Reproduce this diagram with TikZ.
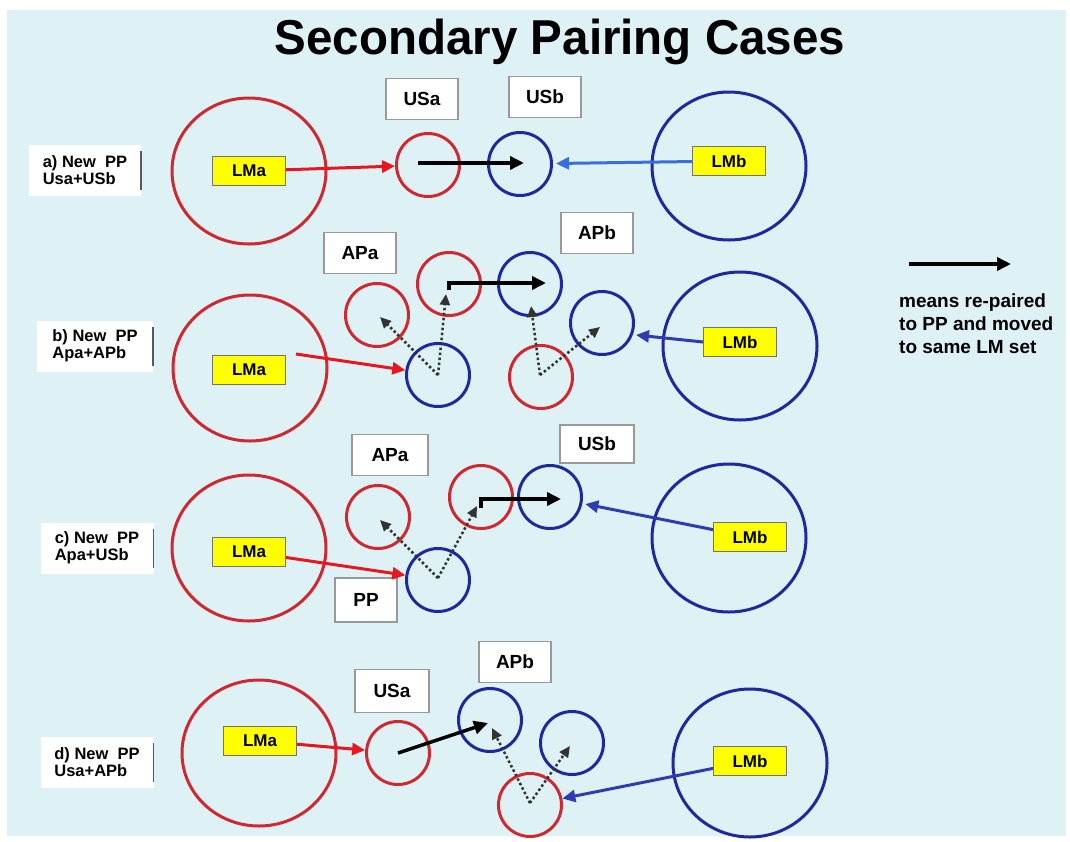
\documentclass[tikz,border=0pt]{standalone}
\usepackage{fontspec}
\setmainfont{Liberation Sans}
\usetikzlibrary{arrows.meta,shapes.geometric,calc}
\definecolor{bgc}{RGB}{222,241,245}
\definecolor{cred}{RGB}{208,40,48}
\definecolor{ared}{RGB}{232,22,30}
\definecolor{cblue}{RGB}{30,40,160}
\definecolor{ablue}{RGB}{45,60,178}
\definecolor{lblue}{RGB}{55,112,222}
\definecolor{lmyel}{RGB}{255,255,0}
\begin{document}
\begin{tikzpicture}[x=1pt,y=-1pt,
  bigred/.style={ellipse,draw=cred,line width=3pt,minimum width=154pt,minimum height=146pt,inner sep=0pt},
  bigblue/.style={ellipse,draw=cblue,line width=3pt,minimum width=154pt,minimum height=148pt,inner sep=0pt},
  smred/.style={circle,draw=cred,line width=3pt,minimum size=63pt,inner sep=0pt},
  smblue/.style={circle,draw=cblue,line width=3pt,minimum size=63pt,inner sep=0pt},
  lmbox/.style={draw=black!55,line width=0.8pt,fill=lmyel,minimum width=73pt,minimum height=29pt,font=\fontsize{17}{17}\selectfont\bfseries,inner sep=0pt},
  tagbox/.style={draw=black!40,line width=1.2pt,fill=white,minimum width=72pt,minimum height=41pt,font=\fontsize{19}{19}\selectfont\bfseries,inner sep=0pt},
  rowlab/.style={fill=white,minimum width=113pt,minimum height=51pt,align=left,font=\fontsize{16.5}{17}\selectfont\bfseries,inner sep=0pt},
  labline/.style={draw=black!65,line width=1.5pt},
  redarr/.style={draw=ared,line width=3pt,-{Triangle[length=13pt,width=12pt]}},
  bluearr/.style={draw=ablue,line width=3pt,-{Triangle[length=13pt,width=12pt]}},
  lbluearr/.style={draw=lblue,line width=3pt,-{Triangle[length=13pt,width=12pt]}},
  blkarr/.style={draw=black,line width=3.5pt,-{Triangle[length=14pt,width=13pt]}},
  dotarr/.style={draw=black!80,line width=2.5pt,dash pattern=on 2.5pt off 2.5pt,-{Triangle[length=11pt,width=10pt]}},
]
\useasboundingbox (0,0) rectangle (1070,841);
\fill[white] (0,0) rectangle (1070,841);
\fill[bgc] (7,10) rectangle (1066,836);

\node[font=\fontsize{49}{52}\selectfont\bfseries,xscale=0.97] (title) at (560,42) {Secondary Pairing Cases};

% ---------- row a
\node[rowlab,minimum width=112pt] (labA) at (85,170) {a) New~~PP\\Usa+USb};
\draw[labline] ($(labA.north east)+(0,7)$) -- ($(labA.south east)+(0,-6)$);
\node[bigred] (cLMaA) at (249,171) {};
\node[lmbox] (lmaA) at (249,171) {LMa};
\node[smred] (usaA) at (428,165) {};
\node[tagbox] (tUSaA) at (422,99) {USa};
\node[smblue] (usbA) at (520,164) {};
\node[tagbox] (tUSbA) at (545,97) {USb};
\node[bigblue] (cLMbA) at (729,166) {};
\node[lmbox] (lmbA) at (729,161) {LMb};
\coordinate (aS) at (418,163);
\coordinate (aE) at (524,163);
\draw[redarr] (lmaA) -- (usaA);
\draw[blkarr] (aS) -- (aE);
\draw[lbluearr,shorten >=3pt] (lmbA) -- (usbA);

% ---------- row b
\node[rowlab,minimum width=116pt] (labB) at (95,346) {b) New~~PP\\Apa+APb};
\draw[labline] ($(labB.north east)+(0,7)$) -- ($(labB.south east)+(0,-6)$);
\node[bigred] (cLMaB) at (250,368) {};
\node[lmbox] (lmaB) at (249,370) {LMa};
\node[tagbox] (tAPaB) at (360,253) {APa};
\node[smred] (apaB) at (377,315) {};
\node[smred] (usaB) at (449,284) {};
\node[smblue] (ppB) at (438,375) {};
\node[smblue] (apbB) at (530,284) {};
\node[smred] (ppbB) at (541,377) {};
\node[smblue] (usbB) at (602,323) {};
\node[tagbox] (tAPbB) at (597,233) {APb};
\node[bigblue] (cLMbB) at (740,346) {};
\node[lmbox] (lmbB) at (740,342) {LMb};
\coordinate (bR) at (296,354);
\draw[redarr] (bR) -- (ppB);
\coordinate (bB) at (636,335);
\draw[bluearr] (lmbB.west) -- (bB);
\coordinate (v1) at (438,375);
\coordinate (v1a) at (380,317);
\coordinate (v1b) at (446,294);
\draw[dotarr] (v1) -- (v1a);
\draw[dotarr] (v1) -- (v1b);
\coordinate (bk1) at (449,290);
\coordinate (bk2) at (449,283);
\coordinate (bk3) at (546,283);
\draw[blkarr] (bk1) -- (bk2) -- (bk3);
\coordinate (v2) at (540,375);
\coordinate (v2a) at (531,306);
\coordinate (v2b) at (600,327);
\draw[dotarr] (v2) -- (v2a);
\draw[dotarr] (v2) -- (v2b);

% legend
\coordinate (lgS) at (909,264);
\coordinate (lgE) at (1011,264);
\draw[blkarr] (lgS) -- (lgE);
\node[anchor=north west,align=left,inner sep=0pt,font=\fontsize{19}{23}\selectfont\bfseries] (lgT) at (899,294) {means re-paired\\to PP and moved\\to same LM set};

% ---------- row c
\node[rowlab] (labC) at (97,548) {c) New~~PP\\Apa+USb};
\draw[labline] ($(labC.north east)+(0,7)$) -- ($(labC.south east)+(0,-6)$);
\node[bigred] (cLMaC) at (249,548) {};
\node[lmbox] (lmaC) at (249,552) {LMa};
\node[tagbox,minimum width=76pt] (tAPaC) at (390,455) {APa};
\node[smred] (apaC) at (378,517) {};
\node[smred] (usaC) at (481,497) {};
\node[smblue] (ppC) at (438,580) {};
\node[tagbox,minimum width=62pt,minimum height=44pt] (tPPC) at (366,600) {PP};
\node[smblue] (usbC) at (550,497) {};
\node[tagbox,minimum width=74pt,minimum height=38pt] (tUSbC) at (597,444) {USb};
\node[bigblue] (cLMbC) at (729,538) {};
\node[lmbox] (lmbC) at (750,537) {LMb};
\draw[redarr] (lmaC) -- (ppC);
\draw[bluearr,shorten >=3pt] (lmbC) -- (usbC);
\coordinate (v3) at (438,578);
\coordinate (v3a) at (380,520);
\coordinate (v3b) at (477,506);
\draw[dotarr] (v3) -- (v3a);
\draw[dotarr] (v3) -- (v3b);
\coordinate (ck1) at (481,508);
\coordinate (ck2) at (481,499);
\coordinate (ck3) at (561,499);
\draw[blkarr] (ck1) -- (ck2) -- (ck3);

% ---------- row d
\node[rowlab] (labD) at (97,762) {d) New~~PP\\Usa+APb};
\draw[labline] ($(labD.north east)+(0,7)$) -- ($(labD.south east)+(0,-6)$);
\node[bigred] (cLMaD) at (259,753) {};
\node[lmbox] (lmaD) at (260,741) {LMa};
\node[smred] (usaD) at (398,753) {};
\node[tagbox,minimum width=74pt,minimum height=43pt] (tUSaD) at (392,691) {USa};
\node[smblue] (apbD) at (490,720) {};
\node[tagbox] (tAPbD) at (515,662) {APb};
\node[smblue] (usbD) at (572,743) {};
\node[smred] (ppD) at (530,805) {};
\node[bigblue] (cLMbD) at (750,763) {};
\node[lmbox] (lmbD) at (750,761) {LMb};
\draw[redarr] (lmaD) -- (usaD);
\coordinate (dk1) at (398,753);
\coordinate (dk2) at (488,723);
\draw[blkarr] (dk1) -- (dk2);
\coordinate (v4) at (530,803);
\coordinate (v4a) at (492,728);
\coordinate (v4b) at (570,746);
\draw[dotarr] (v4) -- (v4a);
\draw[dotarr] (v4) -- (v4b);
\draw[bluearr] (lmbD) -- (ppD);
\end{tikzpicture}
\end{document}
